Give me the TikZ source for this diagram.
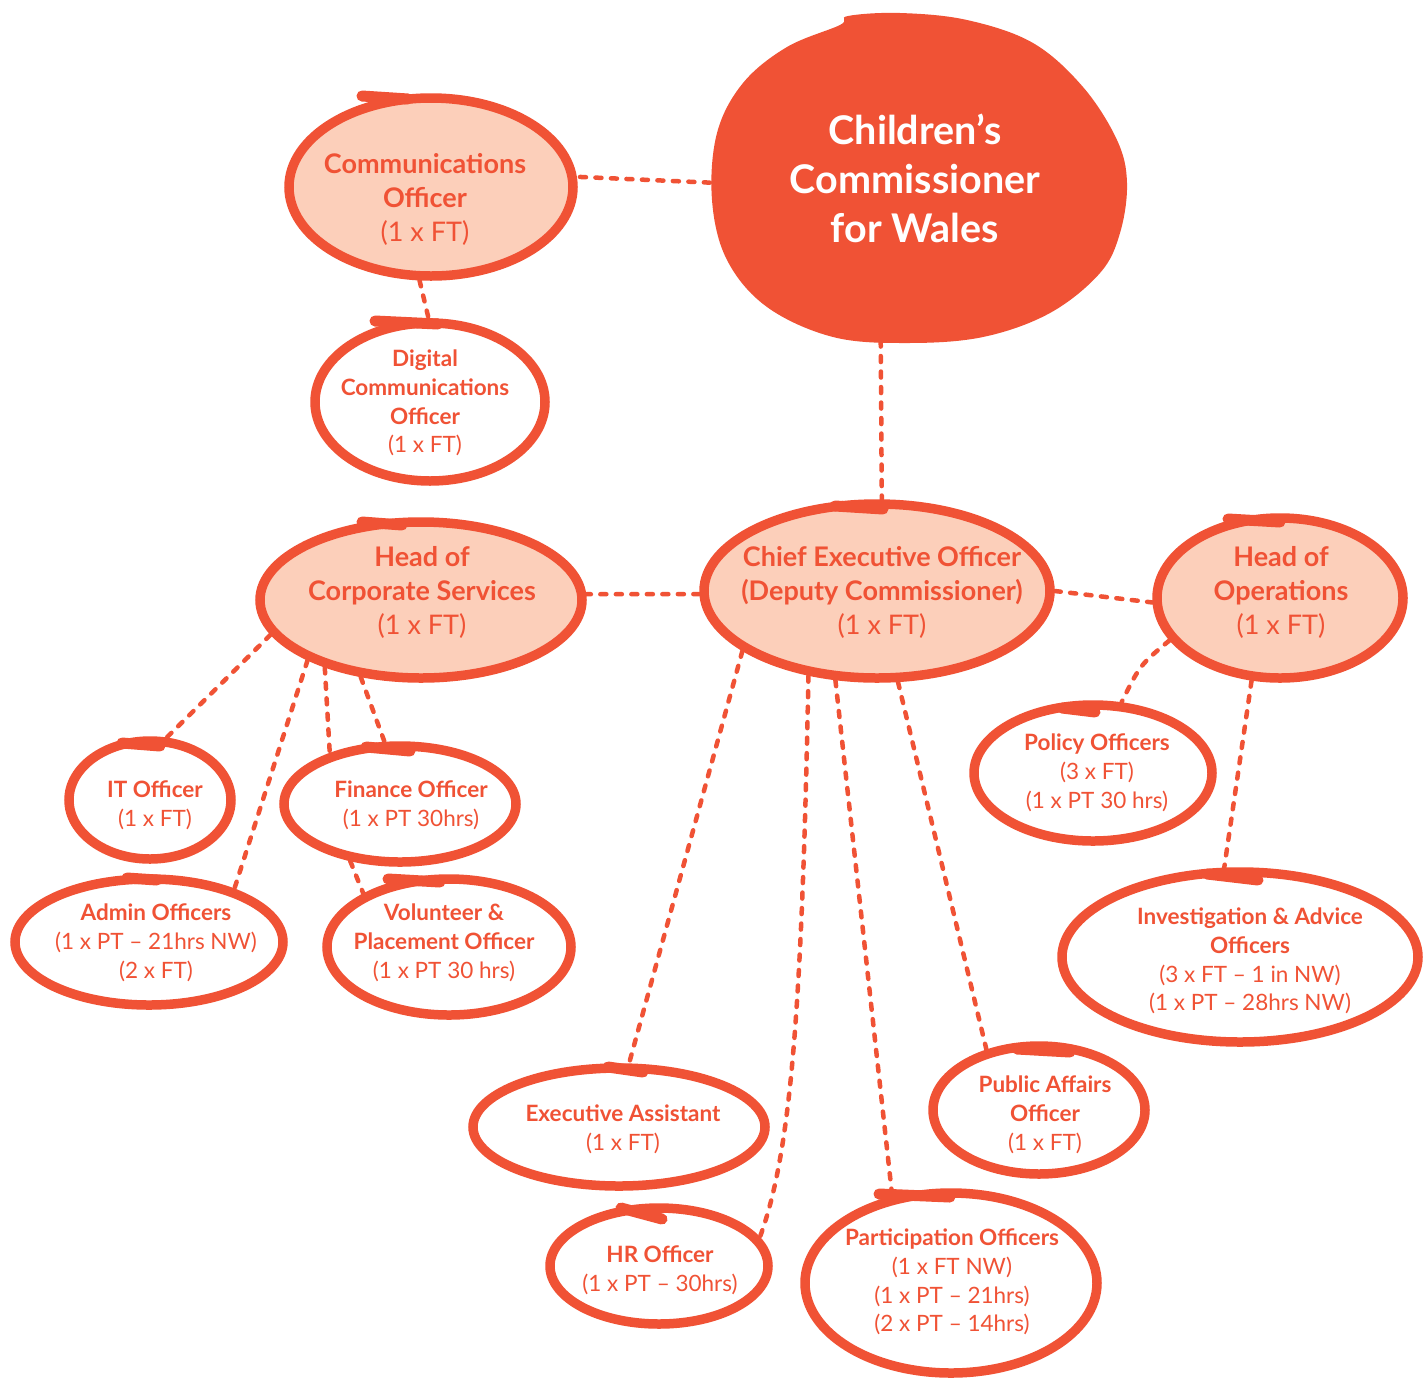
\documentclass[tikz,border=0pt]{standalone}
\usepackage{fontspec}
\setmainfont{Lato}
\usetikzlibrary{shapes.geometric}
\definecolor{cco}{HTML}{F05235}
\definecolor{ccp}{HTML}{FCCFBA}
\begin{document}
\begin{tikzpicture}[x=1pt,y=-1pt,
  oval/.style={ellipse, draw=cco, line width=9.5pt, inner sep=0pt},
  peach/.style={oval, fill=ccp},
  plain/.style={oval, fill=white},
  tailstroke/.style={cco, line width=11pt, line cap=round},
  link/.style={cco, line width=4.5pt, line cap=round, dash pattern=on 6pt off 9.5pt},
  txt/.style={text=cco, align=center, inner sep=0pt},
  bigtxt/.style={txt, font=\fontsize{27}{34}\selectfont},
  smalltxt/.style={txt, font=\fontsize{22.5}{28.8}\selectfont},
]
\useasboundingbox[fill=white] (0,0) rectangle (1424,1377);

% main blob
\fill[cco] plot[smooth cycle, tension=0.6] coordinates {
 (848,16) (900,13) (967,20) (1033,43) (1083,87) (1117,140) (1127,183)
 (1120,233) (1100,273) (1050,313) (983,337) (907,343) (833,337) (767,307)
 (727,260) (712,200) (717,133) (743,83) (787,47) (840,25)};
\node[ellipse, minimum width=416pt, minimum height=328pt, inner sep=0pt] (ccw) at (918,179) {};
\node[txt, text=white, font=\fontsize{39.5}{49}\selectfont\bfseries] (ccw-t) at (915,178) {Children’s\\Commissioner\\for Wales};

% ovals
\node[peach, minimum width=284pt, minimum height=178pt] (comms) at (431,187) {};
\node[plain, minimum width=230pt, minimum height=158pt] (digital) at (430,402) {};
\node[peach, minimum width=322pt, minimum height=156pt] (hcs) at (421,600) {};
\node[peach, minimum width=346pt, minimum height=174pt] (ceo) at (877,591) {};
\node[peach, minimum width=246pt, minimum height=160pt] (hoo) at (1280,598) {};
\node[plain, minimum width=162pt, minimum height=118pt] (it) at (150,800) {};
\node[plain, minimum width=232pt, minimum height=116pt] (fin) at (400,804) {};
\node[plain, minimum width=268pt, minimum height=126pt] (admin) at (149,942) {};
\node[plain, minimum width=244pt, minimum height=136pt] (vol) at (449,947) {};
\node[plain, minimum width=238pt, minimum height=136pt] (pol) at (1093,773) {};
\node[plain, minimum width=356pt, minimum height=170pt] (inv) at (1240,957) {};
\node[plain, minimum width=292pt, minimum height=118pt] (exec) at (619,1127) {};
\node[plain, minimum width=218pt, minimum height=116pt] (hr) at (659,1266) {};
\node[plain, minimum width=292pt, minimum height=180pt] (part) at (951,1283) {};
\node[plain, minimum width=212pt, minimum height=128pt] (pub) at (1039,1110) {};

% pen-start strokes
\draw[tailstroke] (362,96) -- (408,99);
\draw[tailstroke] (375,321) -- (438,324);
\draw[tailstroke] (362,522) -- (402,525);
\draw[tailstroke] (835,506) -- (883,509);
\draw[tailstroke] (1228,519) -- (1280,522);
\draw[tailstroke] (122,743) -- (160,746);
\draw[tailstroke] (366,747) -- (410,751);
\draw[tailstroke] (127,878) -- (157,880);
\draw[tailstroke] (388,879) -- (440,882);
\draw[tailstroke] (1062,708) -- (1095,712);
\draw[tailstroke] (1207,874) -- (1258,880);
\draw[tailstroke] (608,1067) -- (643,1072);
\draw[tailstroke] (621,1208) -- (662,1219);
\draw[tailstroke] (879,1194) -- (950,1197);
\draw[tailstroke] (1017,1049) -- (1070,1052);

% connectors
\draw[link] (ccw.181) -- (comms.4);
\draw[link] (comms.263) -- (digital.91);
\draw[link] (ccw.257) -- (ceo.87);
\draw[link] (ceo.181) -- (hcs.2.5);
\draw[link] (ceo.0) -- (hoo.182);
\draw[link] (hcs.193.6) -- (it.75.5);
\draw[link] (hcs.208.8) -- (admin.32.5);
\draw[link] (hcs.215.9) -- (fin.144.6);
\draw[link] (hcs.232.5) -- (fin.104.5);
\draw[link] (fin.229) -- (vol.148.7);
\draw[link] (hoo.201) .. controls (1140,665) .. (pol.68);
\draw[link] (hoo.251.8) -- (inv.100.4);
\draw[link] (ceo.204) -- (exec.81);
\draw[link] (ceo.231.4) .. controls (802,1000) and (792,1150) .. (hr.16.5);
\draw[link] (ceo.245.7) -- (part.124.7);
\draw[link] (ceo.283) -- (pub.131.7);

% texts
\node[bigtxt] (comms-t) at (425,199) {\textbf{Communications}\\\textbf{Officer}\\(1 x FT)};
\node[smalltxt] (digital-t) at (425,403) {\textbf{Digital}\\\textbf{Communications}\\\textbf{Officer}\\(1 x FT)};
\node[bigtxt] (hcs-t) at (422,592) {\textbf{Head of}\\\textbf{Corporate Services}\\(1 x FT)};
\node[bigtxt] (ceo-t) at (882,592) {\textbf{Chief Executive Officer}\\\textbf{(Deputy Commissioner)}\\(1 x FT)};
\node[bigtxt] (hoo-t) at (1281,592) {\textbf{Head of}\\\textbf{Operations}\\(1 x FT)};
\node[smalltxt] (it-t) at (155,805) {\textbf{IT Officer}\\(1 x FT)};
\node[smalltxt] (fin-t) at (411,805) {\textbf{Finance Officer}\\(1 x PT 30hrs)};
\node[smalltxt] (admin-t) at (156,943) {\textbf{Admin Officers}\\(1 x PT – 21hrs NW)\\(2 x FT)};
\node[smalltxt] (vol-t) at (444,943) {\textbf{Volunteer \&}\\\textbf{Placement Officer}\\(1 x PT 30 hrs)};
\node[smalltxt] (pol-t) at (1097,773) {\textbf{Policy Officers}\\(3 x FT)\\(1 x PT 30 hrs)};
\node[smalltxt] (inv-t) at (1250,961) {\textbf{Investigation \& Advice}\\\textbf{Officers}\\(3 x FT – 1 in NW)\\(1 x PT – 28hrs NW)};
\node[smalltxt] (exec-t) at (623,1129) {\textbf{Executive Assistant}\\(1 x FT)};
\node[smalltxt] (hr-t) at (660,1270) {\textbf{HR Officer}\\(1 x PT – 30hrs)};
\node[smalltxt] (part-t) at (952,1282) {\textbf{Participation Officers}\\(1 x FT NW)\\(1 x PT – 21hrs)\\(2 x PT – 14hrs)};
\node[smalltxt] (pub-t) at (1045,1115) {\textbf{Public Affairs}\\\textbf{Officer}\\(1 x FT)};
\end{tikzpicture}
\end{document}
